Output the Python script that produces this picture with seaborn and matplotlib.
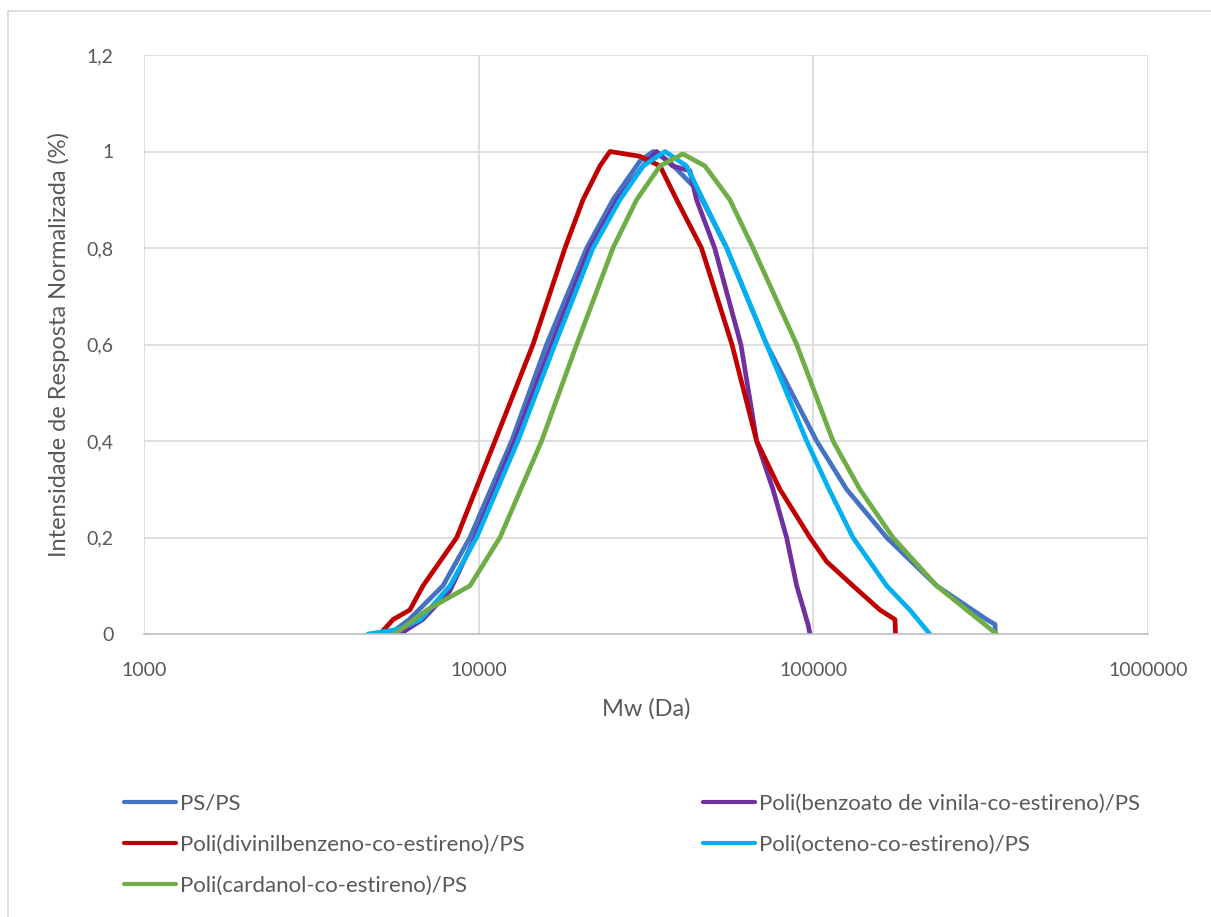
import matplotlib
matplotlib.use("Agg")
import matplotlib.pyplot as plt
import numpy as np
import pandas as pd
import seaborn as sns
from matplotlib.lines import Line2D
from matplotlib.patches import Rectangle
from matplotlib.ticker import FuncFormatter

# values (Mw in Da, normalised intensity)
ps_mw = [5430, 6200, 7820, 9420, 12550, 15960, 21030, 25190, 30330, 33200, 37000,
         45000, 55090, 72510, 102300, 125700, 165600, 233500, 329600, 348900, 350000]
ps_i = [0.0, 0.03, 0.10, 0.20, 0.40, 0.60, 0.80, 0.90, 0.98, 1.0, 0.98,
        0.92, 0.80, 0.60, 0.40, 0.30, 0.20, 0.10, 0.03, 0.02, 0.0]

benz_mw = [5820, 6800, 8210, 9750, 12840, 16530, 21520, 26000, 31000, 34000, 38000,
           42780, 44770, 50720, 60740, 67710, 75730, 83200, 89180, 96390, 97700]
benz_i = [0.0, 0.03, 0.09, 0.20, 0.40, 0.60, 0.80, 0.90, 0.97, 1.0, 0.97,
          0.96, 0.90, 0.80, 0.60, 0.40, 0.30, 0.20, 0.10, 0.02, 0.0]

dvb_mw = [5070, 5550, 6230, 6820, 8600, 11190, 14530, 18110, 20500, 23030, 24680,
          30330, 34820, 39050, 46320, 57130, 67710, 79430, 97700, 109600, 131300,
          158100, 175400, 176000]
dvb_i = [0.0, 0.03, 0.05, 0.10, 0.20, 0.40, 0.60, 0.80, 0.90, 0.97, 1.0,
         0.99, 0.97, 0.90, 0.80, 0.60, 0.40, 0.30, 0.20, 0.15, 0.10,
         0.05, 0.03, 0.0]

oct_mw = [4670, 5800, 6700, 8210, 9860, 13100, 16900, 21960, 26430, 31000, 36040,
          41790, 55090, 72510, 95500, 111400, 131300, 165600, 194100, 222800]
oct_i = [0.0, 0.01, 0.03, 0.10, 0.20, 0.40, 0.60, 0.80, 0.90, 0.97, 1.0,
         0.97, 0.80, 0.60, 0.40, 0.30, 0.20, 0.10, 0.05, 0.0]

card_mw = [5620, 7010, 9420, 11580, 15420, 19630, 25190, 29650, 34820, 40740,
           47440, 56310, 66030, 89180, 114500, 137700, 172900, 233500, 287100, 352900]
card_i = [0.0, 0.05, 0.10, 0.20, 0.40, 0.60, 0.80, 0.90, 0.97, 0.995,
          0.97, 0.90, 0.80, 0.60, 0.40, 0.30, 0.20, 0.10, 0.05, 0.0]

names = ["PS/PS",
         "Poli(benzoato de vinila-co-estireno)/PS",
         "Poli(divinilbenzeno-co-estireno)/PS",
         "Poli(octeno-co-estireno)/PS",
         "Poli(cardanol-co-estireno)/PS"]
colors = ["#4472C4", "#7030A0", "#C00000", "#00B0F0", "#70AD47"]

series = [(ps_mw, ps_i), (benz_mw, benz_i), (dvb_mw, dvb_i), (oct_mw, oct_i), (card_mw, card_i)]
frames = []
for name, (mw, inten) in zip(names, series):
    frames.append(pd.DataFrame({"Mw": mw, "I": inten, "serie": name}))
df = pd.concat(frames, ignore_index=True)

sns.set_style("white")
plt.rcParams["font.family"] = ["Lato", "DejaVu Sans"]
text_color = "#595959"
grid_color = "#D9D9D9"

fig = plt.figure(figsize=(12.11, 9.17), dpi=100)
ax = fig.add_axes([144 / 1211, 1 - 634 / 917, (1148 - 144) / 1211, (634 - 55) / 917])

sns.lineplot(data=df, x="Mw", y="I", hue="serie", hue_order=names,
             palette=dict(zip(names, colors)), estimator=None, sort=False,
             linewidth=3.4, legend=False, ax=ax)

ax.set_xscale("log")
ax.set_xlim(1000, 1000000)
ax.set_ylim(0, 1.2)
ax.set_xticks([1000, 10000, 100000, 1000000])
ax.xaxis.set_minor_locator(matplotlib.ticker.NullLocator())
ax.set_yticks(np.arange(0, 1.21, 0.2))
ax.xaxis.set_major_formatter(FuncFormatter(lambda v, p: f"{int(round(v))}"))
ax.yaxis.set_major_formatter(FuncFormatter(lambda v, p: f"{v:.1f}".rstrip("0").rstrip(".").replace(".", ",")))
ax.grid(True, color=grid_color, linewidth=1.2)
ax.set_axisbelow(True)
for side in ["top", "right", "left"]:
    ax.spines[side].set_visible(False)
ax.spines["bottom"].set_color("#BFBFBF")
ax.spines["bottom"].set_linewidth(1.2)
ax.tick_params(axis="both", length=0, labelsize=14, colors=text_color)
ax.tick_params(axis="y", pad=22)
ax.tick_params(axis="x", pad=20)

ax.set_xlabel("Mw (Da)", fontsize=17, color=text_color, labelpad=14)
ax.set_ylabel("Intensidade de Resposta Normalizada (%)", fontsize=17, color=text_color, labelpad=12)

# legend, two columns placed like the reference
h = [Line2D([], [], color=c, linewidth=3.0) for c in colors]
legend_kw = dict(loc="upper left", frameon=False, fontsize=16, labelcolor=text_color,
                 handlelength=2.35, handletextpad=0.15, labelspacing=0.95)
fig.legend([h[0], h[2], h[4]], [names[0], names[2], names[4]],
           bbox_to_anchor=(104 / 1211, 1 - 774 / 917), **legend_kw)
fig.legend([h[1], h[3]], [names[1], names[3]],
           bbox_to_anchor=(683 / 1211, 1 - 774 / 917), **legend_kw)

fig.add_artist(Rectangle((8 / 1211, -0.01), 1.0, 1 - 11 / 917 + 0.01,
                         transform=fig.transFigure, fill=False,
                         edgecolor=grid_color, linewidth=1.2))

fig.savefig("out.png", dpi=100)
